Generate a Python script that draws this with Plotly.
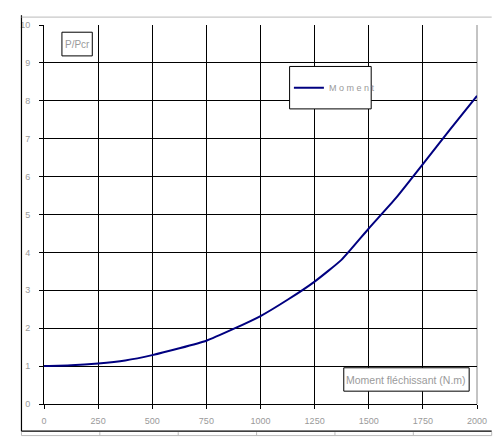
import plotly.graph_objects as go

# moment (N.m) and P/Pcr
moment = [0, 125, 250, 375, 500, 625, 750, 875, 1000, 1125, 1250, 1375, 1500, 1625, 1750, 1875, 2000]
p_pcr = [1.00, 1.02, 1.07, 1.15, 1.29, 1.47, 1.67, 1.98, 2.32, 2.75, 3.23, 3.81, 4.63, 5.43, 6.33, 7.24, 8.13]

x_ticks = [0, 250, 500, 750, 1000, 1250, 1500, 1750, 2000]
y_ticks = [0, 1, 2, 3, 4, 5, 6, 7, 8, 9, 10]

GREY_TEXT = "#9a9a9a"
FONT = "Liberation Sans, Arial, sans-serif"

# the page body adds an 8px margin, so the figure is drawn 8px in from the window edge
OFF = 8
W, H = 504 - OFF, 447 - OFF
PLOT_L, PLOT_T, PLOT_R, PLOT_B = 35, 20, 477, 404  # plot area in window pixels
pw, ph = PLOT_R - PLOT_L, PLOT_B - PLOT_T


# convert window pixel positions to paper coords
def px(x):
    return (x - PLOT_L) / pw


def py(y):
    return (PLOT_B - y) / ph


fig = go.Figure()

fig.add_trace(
    go.Scatter(
        x=moment,
        y=p_pcr,
        mode="lines",
        name="M o m e n t",
        line=dict(color="#000080", width=2, shape="spline", smoothing=0.5),
    )
)

shapes = []

# outer frame (spreadsheet chart area)
shapes.append(dict(type="line", xref="paper", yref="paper", x0=px(12), x1=px(12), y0=py(10), y1=py(431.5), line=dict(color="black", width=1.2)))
shapes.append(dict(type="line", xref="paper", yref="paper", x0=px(12), x1=px(492), y0=py(431.5), y1=py(431.5), line=dict(color="black", width=1.2)))
shapes.append(dict(type="line", xref="paper", yref="paper", x0=px(12), x1=px(492), y0=py(12), y1=py(12), line=dict(color="#bbbbbb", width=1)))
shapes.append(dict(type="line", xref="paper", yref="paper", x0=px(12), x1=px(492), y0=py(436), y1=py(436), line=dict(color="#bbbbbb", width=1)))
for i in range(7):
    xx = 12 + 80 * i
    shapes.append(dict(type="line", xref="paper", yref="paper", x0=px(xx), x1=px(xx), y0=py(436), y1=py(432.5), line=dict(color="#bbbbbb", width=1)))

# grey right border of plot area
shapes.append(dict(type="line", xref="paper", yref="paper", x0=1, x1=1, y0=0, y1=1, layer="between", line=dict(color="#888888", width=1)))

# boxes
box = dict(type="rect", xref="paper", yref="paper", fillcolor="white", line=dict(color="black", width=1), layer="above")
shapes.append(dict(box, x0=px(53.3), x1=px(84.3), y0=py(51.3), y1=py(27.3)))
shapes.append(dict(box, x0=px(285.7), x1=px(369), y0=py(105), y1=py(62)))
shapes.append(dict(box, x0=px(341), x1=px(469), y0=py(391), y1=py(367.3)))

fig.update_layout(
    width=W,
    height=H,
    margin=dict(l=PLOT_L - OFF, r=W - (PLOT_R - OFF), t=PLOT_T - OFF, b=H - (PLOT_B - OFF)),
    paper_bgcolor="white",
    plot_bgcolor="white",
    font=dict(family=FONT, size=9, color=GREY_TEXT),
    shapes=shapes,
    showlegend=True,
    legend=dict(
        x=px(285),
        y=py(83.5),
        xanchor="left",
        yanchor="middle",
        bgcolor="rgba(0,0,0,0)",
        borderwidth=0,
        font=dict(family=FONT, size=9, color=GREY_TEXT),
    ),
    annotations=[
        dict(
            text="P/Pcr",
            xref="paper",
            yref="paper",
            x=px(68.8),
            y=py(39.3),
            xanchor="center",
            yanchor="middle",
            showarrow=False,
            font=dict(family=FONT, size=10, color=GREY_TEXT),
        ),
        dict(
            text="Moment fléchissant (N.m)",
            xref="paper",
            yref="paper",
            x=px(405),
            y=py(379.2),
            xanchor="center",
            yanchor="middle",
            showarrow=False,
            font=dict(family=FONT, size=10.5, color=GREY_TEXT),
        ),
    ],
)

fig.update_xaxes(
    range=[0, 2000],
    tickvals=x_ticks,
    ticktext=[str(v) for v in x_ticks],
    showgrid=True,
    gridcolor="black",
    gridwidth=1,
    showline=True,
    linecolor="black",
    linewidth=1,
    ticks="outside",
    ticklen=4,
    tickcolor="black",
    zeroline=False,
    ticklabelstandoff=4,
    tickfont=dict(family=FONT, size=9, color=GREY_TEXT),
)

fig.update_yaxes(
    range=[0, 10],
    tickvals=y_ticks,
    ticktext=[str(v) for v in y_ticks],
    showgrid=True,
    gridcolor="black",
    gridwidth=1,
    showline=True,
    linecolor="black",
    linewidth=1,
    ticks="outside",
    ticklen=4,
    tickcolor="black",
    zeroline=False,
    ticklabelstandoff=7,
    tickfont=dict(family=FONT, size=9, color=GREY_TEXT),
)

fig.write_html("out.html")
